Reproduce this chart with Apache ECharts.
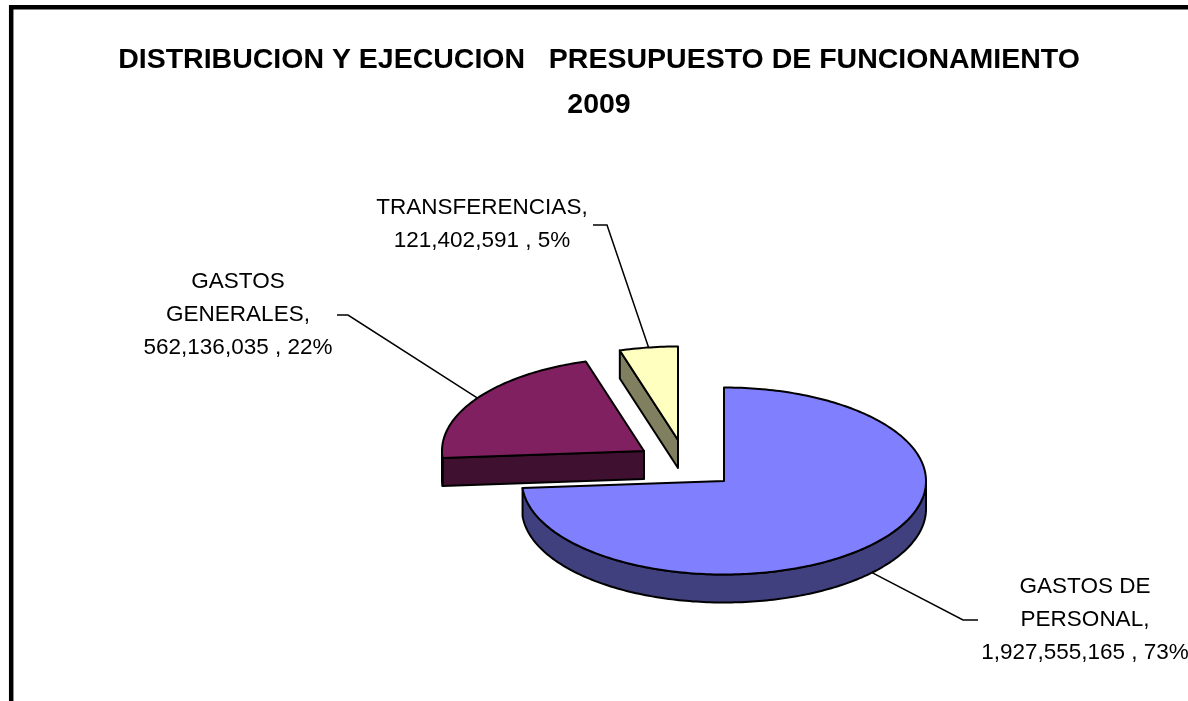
<!DOCTYPE html>
<html>
<head>
<meta charset="utf-8">
<script src="https://cdn.jsdelivr.net/npm/echarts@6/dist/echarts.min.js"></script>
<style>
  html, body { margin: 0; padding: 0; background: #fff; }
  #chart { width: 1188px; height: 701px; }
</style>
</head>
<body>
<div id="chart"></div>
<script>
// datos del grafico
const categories = ['GASTOS DE\nPERSONAL', 'GASTOS\nGENERALES', 'TRANSFERENCIAS'];
const values = [1927555165, 562136035, 121402591];
const pctLabels = [73, 22, 5];

// estilo del pastel 3D
const topColors = ['#8080ff', '#802060', '#ffffc0'];
const sideColors = ['#40407f', '#401030', '#808060'];
const pie = { cx: 724, cy: 481, a: 202, b: 93.5, depth: 28 };
const explode = [[0, 0], [-80, -30], [-46, -41]];
const drawRank = [2, 1, 0]; // amarillo atras, azul adelante
const labelLayout = [
    { text: [1085, 620], elbow: [963, 620], end: [978, 620] },
    { text: [238, 315], elbow: [348, 315], end: [337, 315] },
    { text: [482, 224], elbow: [607, 225], end: [593, 225] }
];

const total = values.reduce((s, v) => s + v, 0);
const fmt = v => String(v).replace(/\B(?=(\d{3})+(?!\d))/g, ',');
const rad = d => d * Math.PI / 180;

// angulos: empieza a las 12 y va en sentido horario
const slices = [];
let start = 90;
values.forEach(v => {
    const sweep = v / total * 360;
    slices.push({ hi: start, lo: start - sweep });
    start -= sweep;
});

function pt(ox, oy, deg, dy) {
    return [ox + pie.a * Math.cos(rad(deg)), oy - pie.b * Math.sin(rad(deg)) + (dy || 0)];
}
function arc(ox, oy, from, to, dy) {
    const pts = [];
    const n = Math.max(2, Math.ceil(Math.abs(to - from)));
    for (let k = 0; k <= n; k++) pts.push(pt(ox, oy, from + (to - from) * k / n, dy));
    return pts;
}

function renderItem(params, api) {
    const i = params.dataIndex;
    const s = slices[i];
    const ox = pie.cx + explode[i][0];
    const oy = pie.cy + explode[i][1];
    const d = pie.depth;
    const base = drawRank[i] * 10;
    const stroke = { stroke: '#000', lineWidth: 2, lineJoin: 'round' };
    const children = [];

    // caras radiales visibles
    [[s.hi, Math.cos(rad(s.hi)) < -1e-6], [s.lo, Math.cos(rad(s.lo)) > 1e-6]].forEach(([ang, vis]) => {
        if (!vis) return;
        const p = pt(ox, oy, ang);
        children.push({
            type: 'polygon', z2: base + 1,
            shape: { points: [[ox, oy], p, [p[0], p[1] + d], [ox, oy + d]] },
            style: Object.assign({ fill: sideColors[i] }, stroke)
        });
    });

    // pared exterior frontal
    for (let k = -1; k <= 1; k++) {
        const f0 = Math.max(s.lo, -180 + 360 * k);
        const f1 = Math.min(s.hi, 360 * k);
        if (f1 - f0 <= 0.01) continue;
        const topArc = arc(ox, oy, f0, f1);
        const botArc = arc(ox, oy, f1, f0, d);
        children.push({
            type: 'polygon', z2: base + 2,
            shape: { points: topArc.concat(botArc) },
            style: Object.assign({ fill: sideColors[i] }, stroke)
        });
    }

    // cara superior
    children.push({
        type: 'polygon', z2: base + 3,
        shape: { points: [[ox, oy]].concat(arc(ox, oy, s.hi, s.lo)) },
        style: Object.assign({ fill: topColors[i] }, stroke)
    });

    // linea guia y etiqueta
    const mid = (s.hi + s.lo) / 2;
    const m = pt(ox, oy, mid, Math.sin(rad(mid)) < 0 ? d : 0);
    const L = labelLayout[i];
    children.push({
        type: 'polyline', z2: 100,
        shape: { points: [m, L.elbow, L.end] },
        style: { stroke: '#000', lineWidth: 1.5, fill: null }
    });
    children.push({
        type: 'text', z2: 101,
        style: {
            text: categories[i] + ',\n' + fmt(api.value(0)) + ' , ' + pctLabels[i] + '%',
            x: L.text[0], y: L.text[1],
            align: 'center', verticalAlign: 'middle',
            fontFamily: 'Liberation Sans, Arial, sans-serif',
            fontSize: 22.5, lineHeight: 33, fill: '#000'
        }
    });

    return { type: 'group', children: children };
}

const chart = echarts.init(document.getElementById('chart'));
chart.setOption({
    animation: false,
    backgroundColor: '#fff',
    title: {
        text: 'DISTRIBUCION Y EJECUCION   PRESUPUESTO DE FUNCIONAMIENTO\n2009',
        left: 594, top: 33, textAlign: 'center',
        textStyle: {
            fontFamily: 'Liberation Sans, Arial, sans-serif',
            fontSize: 28.5, fontWeight: 'bold', color: '#000',
            lineHeight: 45, align: 'center'
        }
    },
    graphic: [{
        type: 'rect', silent: true, z: -1,
        shape: { x: 11.2, y: 7.2, width: 1400, height: 900 },
        style: { fill: 'none', stroke: '#000', lineWidth: 4.5 }
    }],
    series: [{
        type: 'custom',
        coordinateSystem: 'none',
        renderItem: renderItem,
        data: values.map(v => [v])
    }]
});
</script>
</body>
</html>
